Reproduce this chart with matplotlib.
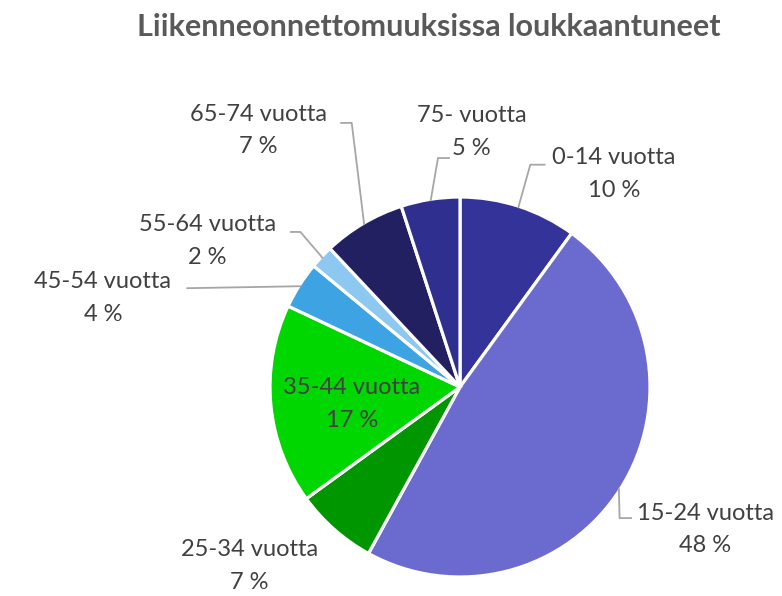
import matplotlib
matplotlib.use('Agg')
import matplotlib.pyplot as plt
import numpy as np

plt.rcParams['font.family'] = ['Lato', 'DejaVu Sans']

# data
groups = ['0-14 vuotta', '15-24 vuotta', '25-34 vuotta', '35-44 vuotta',
          '45-54 vuotta', '55-64 vuotta', '65-74 vuotta', '75- vuotta']
shares = [10, 48, 7, 17, 4, 2, 7, 5]
colors = ['#333399', '#6B6BCF', '#009600', '#00D600',
          '#3DA3E3', '#8DC8F0', '#222060', '#2F2F8F']

# label layout (pie radius = 1): text centre, elbow of leader line, leader end
label_pos = [(0.81, 1.12), (1.29, -0.75), (-1.11, -0.94), (-0.57, -0.09),
             (-1.88, 0.47), (-1.33, 0.77), (-1.06, 1.35), (0.06, 1.34)]
elbows = [(0.37, 1.17), (0.84, -0.69), None, None,
          (-1.44, 0.52), (-0.84, 0.816), (-0.57, 1.39), (-0.116, 1.205)]
ends = [(0.45, 1.17), (0.905, -0.69), None, None,
        (-1.44, 0.52), (-0.895, 0.816), (-0.63, 1.39), (-0.053, 1.205)]

W, H = 782, 596
cx, cy, R = 460, 387, 190

fig = plt.figure(figsize=(W / 100, H / 100), dpi=100)
ax = fig.add_axes([0, 0, 1, 1])

wedges, _ = ax.pie(shares, colors=colors, startangle=90, counterclock=False,
                   radius=1.0, wedgeprops=dict(edgecolor='white', linewidth=2.3))

ax.set_xlim(-cx / R, (W - cx) / R)
ax.set_ylim((cy - H) / R, cy / R)
ax.set_aspect('auto')
ax.axis('off')

txt = '#404040'
line_c = '#A6A6A6'
for w, g, s, pos, el, en in zip(wedges, groups, shares, label_pos, elbows, ends):
    ax.text(pos[0], pos[1], f'{g}\n{s} %', ha='center', va='center',
            fontsize=17, color=txt, linespacing=1.7)
    if el is None:
        continue
    mid = np.deg2rad((w.theta1 + w.theta2) / 2)
    p0 = (0.99 * np.cos(mid), 0.99 * np.sin(mid))
    ax.plot([p0[0], el[0], en[0]], [p0[1], el[1], en[1]],
            color=line_c, lw=1.3, solid_capstyle='butt')

fig.text(0.548, 0.955, 'Liikenneonnettomuuksissa loukkaantuneet',
         ha='center', va='center', fontsize=22, fontweight='bold',
         color='#595959')

fig.savefig('out.png', dpi=100)
